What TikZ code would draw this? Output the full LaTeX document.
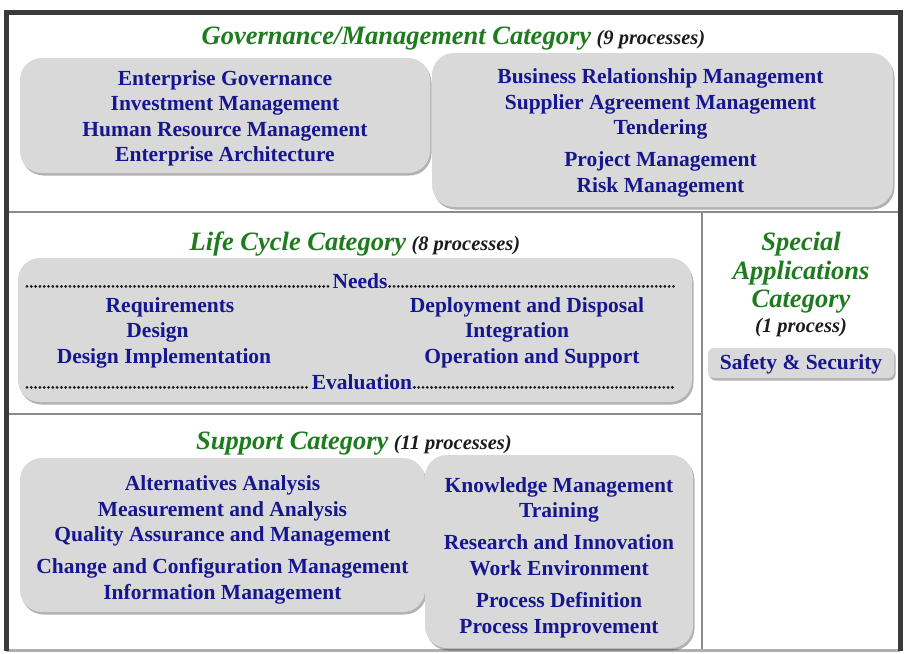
\documentclass[tikz,border=0pt]{standalone}
\usepackage{fontspec}
\setmainfont{Liberation Serif}
\usepackage{tikz}
\usetikzlibrary{positioning,shadows}
\definecolor{frame}{HTML}{3A3A3A}
\definecolor{rule}{HTML}{8C8C8C}
\definecolor{boxfill}{HTML}{D9D9D9}
\definecolor{proc}{HTML}{16168E}
\definecolor{catgreen}{HTML}{1E7B1E}
\definecolor{ink}{HTML}{1C1C1C}

\tikzset{
  procbox/.style={fill=boxfill,rounded corners=22pt,inner sep=0pt,
    drop shadow={shadow xshift=1.5pt,shadow yshift=-2.5pt,fill=black,opacity=0.3}},
  boxtext/.style={align=center,text=proc,inner sep=0pt,font=\bfseries\fontsize{21.5}{25.5}\selectfont},
  item/.style={text=proc,font=\bfseries\fontsize{21.5}{25.5}\selectfont,inner sep=2pt,anchor=base},
  cattitle/.style={text=catgreen,font=\bfseries\itshape\fontsize{26.5}{28.5}\selectfont,align=center,inner sep=0pt},
  count/.style={text=ink,font=\bfseries\itshape\fontsize{20.5}{24}\selectfont},
  dotrow/.style={draw=ink,line width=3.1pt,line cap=round,dash pattern=on 0pt off 4.3pt},
  divider/.style={draw=rule,line width=1.6pt}
}

\begin{document}
\begin{tikzpicture}[x=1pt,y=-1pt]
  \useasboundingbox (0,0) rectangle (904,653);
  \fill[white] (0,0) rectangle (904,653);

  % outer frame and category dividers
  \draw[divider] (9,212) -- (898,212);
  \draw[divider] (702,212) -- (702,649);
  \draw[divider] (9,414) -- (702,414);
  \draw[draw=rule!70,line width=3pt] (6,650.5) -- (900,650.5);
  \draw[draw=frame,line width=5pt] (6,651) -- (6,12) -- (900,12) -- (900,651);

  % governance / management
  \node[anchor=base] (gov-t) at (453.5,44)
    {{\color{catgreen}\bfseries\itshape\fontsize{26.5}{28}\selectfont Governance/Management Category}\hspace{3pt}
     {\color{ink}\bfseries\itshape\fontsize{20.5}{24}\selectfont (9 processes)}};
  \node[procbox,minimum width=410,minimum height=115] (gov-l) at (225,115.5) {};
  \node[boxtext] (gov-l-txt) at ([yshift=-3pt]gov-l.center)
    {Enterprise Governance\\Investment Management\\Human Resource Management\\Enterprise Architecture};
  \node[procbox,minimum width=461,minimum height=154] (gov-r) at (662.5,130) {};
  \node[boxtext] (gov-r-txt) at ([xshift=-2pt,yshift=-3pt]gov-r.center)
    {Business Relationship Management\\Supplier Agreement Management\\Tendering\\[6.5pt]
     Project Management\\Risk Management};

  % life cycle
  \node[anchor=base] (lc-t) at (355,250)
    {{\color{catgreen}\bfseries\itshape\fontsize{26.5}{28}\selectfont Life Cycle Category}\hspace{3pt}
     {\color{ink}\bfseries\itshape\fontsize{20.5}{24}\selectfont (8 processes)}};
  \node[procbox,minimum width=674,minimum height=144] (lc-box) at (355,330) {};
  \node[item] (needs) at (360,288) {Needs};
  \node[item] (eval) at (362,389) {Evaluation};
  \foreach \i/\x/\y/\lab in {1/170/312.7/Requirements,2/157.5/337.7/Design,
      3/164/363/Design Implementation,4/527/312.7/Deployment and Disposal,
      5/517/337.7/Integration,6/532/363/Operation and Support}
    \node[item] (lc-\i) at (\x,\y) {\lab};
  \coordinate (needs-l) at (27,286.4);
  \coordinate (needs-r) at (675,286.4);
  \coordinate (eval-l) at (27,387.4);
  \coordinate (eval-r) at (675,387.4);
  \draw[dotrow] (needs-l) -- ([yshift=1.6pt]needs.base west);
  \draw[dotrow] ([yshift=1.6pt]needs.base east) -- (needs-r);
  \draw[dotrow] (eval-l) -- ([yshift=1.6pt]eval.base west);
  \draw[dotrow] ([yshift=1.6pt]eval.base east) -- (eval-r);

  % special applications
  \node[cattitle] (spec-t) at (801,273) {Special\\Applications\\Category};
  \node[count,anchor=base] (spec-n) at (801,332) {(1 process)};
  \node[procbox,rounded corners=6pt,minimum width=186,minimum height=30] (safety) at (801,363) {};
  \node[boxtext] (safety-txt) at ([yshift=-1.5pt]safety.center) {Safety \& Security};

  % support
  \node[anchor=base] (sup-t) at (354,449)
    {{\color{catgreen}\bfseries\itshape\fontsize{26.5}{28}\selectfont Support Category}\hspace{3pt}
     {\color{ink}\bfseries\itshape\fontsize{20.5}{24}\selectfont (11 processes)}};
  \node[procbox,minimum width=405,minimum height=154] (sup-l) at (222.5,535) {};
  \node[boxtext] (sup-l-txt) at ([yshift=-5pt]sup-l.center)
    {Alternatives Analysis\\Measurement and Analysis\\Quality Assurance and Management\\[6.5pt]
     Change and Configuration Management\\Information Management};
  \node[procbox,minimum width=268,minimum height=193] (sup-r) at (559,551.5) {};
  \node[boxtext] (sup-r-txt) at ([yshift=-6pt]sup-r.center)
    {Knowledge Management\\Training\\[6.5pt]Research and Innovation\\Work Environment\\[7pt]
     Process Definition\\Process Improvement};
\end{tikzpicture}
\end{document}
